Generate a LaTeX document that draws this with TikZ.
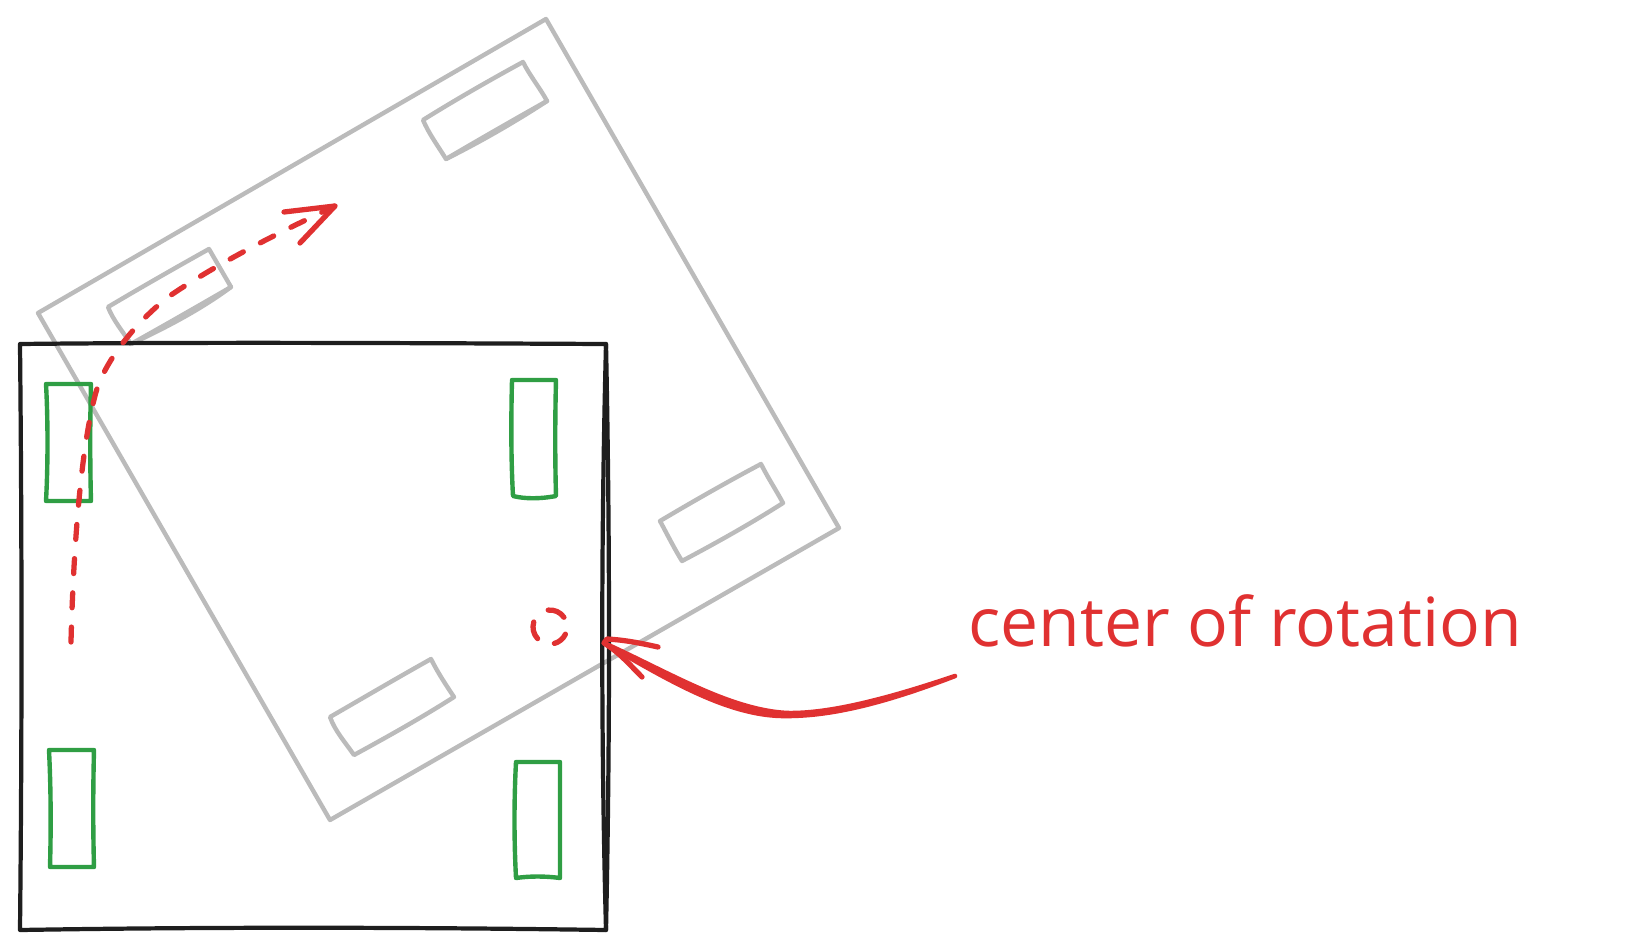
\documentclass[tikz,border=0pt]{standalone}
\usepackage{xcolor}
\usepackage{fontspec}
\setmainfont{Open Sans}
\definecolor{inkblack}{HTML}{1E1E1E}
\definecolor{inkgrey}{HTML}{BBBBBB}
\definecolor{inkgreen}{HTML}{2F9E44}
\definecolor{inkred}{HTML}{E03131}

\begin{document}
\begin{tikzpicture}[
  x=0.02cm, y=-0.02cm,
  greybase/.style={draw=inkgrey, line width=2.5pt, line join=round, line cap=round},
  blackbase/.style={draw=inkblack, line width=2.4pt, line join=round, line cap=round},
  greenwheel/.style={draw=inkgreen, line width=2.5pt, line join=round, line cap=round},
  redpen/.style={draw=inkred, line width=3pt, line cap=round, line join=round},
  reddash/.style={redpen, dash pattern=on 8.5pt off 11pt},
  redlabel/.style={text=inkred, inner sep=0pt, anchor=base west, font=\fontsize{38.6}{42}\selectfont}
]
  \useasboundingbox (0,0) rectangle (1645,950);

  % rotated robot
  \draw[greybase] (546,19) -- (839,528) -- (330,820) -- (38,313) -- cycle;
  \draw[greybase] (423,120) .. controls (455,100) and (490,80) .. (523,62) .. controls (530,76) and (540,88) .. (547,101)
    .. controls (515,122) and (480,142) .. (446,159) .. controls (438,146) and (429,134) .. (423,120) -- cycle;
  \draw[greybase] (547,101) .. controls (515,119) and (480,139) .. (446,159);
  \draw[greybase] (108,307) .. controls (140,288) and (175,268) .. (209,249) -- (231,287)
    .. controls (200,310) and (165,328) .. (131,344) .. controls (123,332) and (113,320) .. (108,307) -- cycle;
  \draw[greybase] (231,287) .. controls (200,305) and (165,325) .. (131,344);
  \draw[greybase] (660,521) .. controls (692,502) and (727,482) .. (761,464) .. controls (768,478) and (776,490) .. (783,503)
    .. controls (750,524) and (716,543) .. (682,561) .. controls (674,548) and (667,534) .. (660,521) -- cycle;
  \draw[greybase] (330,717) .. controls (363,698) and (397,678) .. (431,659) .. controls (438,673) and (446,685) .. (454,697)
    .. controls (421,718) and (387,737) .. (354,755) .. controls (345,742) and (335,731) .. (330,717) -- cycle;

  % robot at start
  \draw[blackbase] (20,344) .. controls (200,342) and (400,343) .. (606,344) .. controls (610,540) and (610,740) .. (606,930)
    .. controls (400,927) and (200,927) .. (20,930) .. controls (22,740) and (22,540) .. (20,344) -- cycle;
  \draw[blackbase] (606,344) .. controls (601,540) and (601,740) .. (606,930);
  \draw[greenwheel] (46,384) -- (91,384) .. controls (90,420) and (90,465) .. (91,501) -- (46,501) .. controls (48,465) and (48,420) .. (46,384) -- cycle;
  \draw[greenwheel] (512,380) -- (556,380) .. controls (555,420) and (555,460) .. (556,496) .. controls (540,499) and (525,499) .. (513,496) .. controls (511,460) and (511,420) .. (512,380) -- cycle;
  \draw[greenwheel] (49,750) -- (94,750) .. controls (93,790) and (93,830) .. (94,867) -- (50,867) .. controls (51,830) and (51,790) .. (49,750) -- cycle;
  \draw[greenwheel] (516,762) -- (560,762) .. controls (560,800) and (560,840) .. (560,878) .. controls (545,876) and (530,876) .. (516,878) .. controls (514,840) and (514,800) .. (516,762) -- cycle;

  % path of the wheel
  \coordinate (pathstart) at (71,642);
  \coordinate (pathtip) at (335,206);
  \coordinate (barbone) at (284,212);
  \coordinate (barbtwo) at (300,243);
  \draw[reddash] (pathstart) .. controls (73,560) and (80,450) .. (96,392) .. controls (106,358) and (140,318) .. (171,295)
    .. controls (220,262) and (280,232) .. (pathtip);
  \draw[redpen] (barbone) -- (pathtip) -- (barbtwo);

  % center of rotation
  \coordinate (rotcenter) at (550,627);
  \draw[redpen] ([shift={(137:17)}]rotcenter) arc (137:197:17);
  \draw[redpen] ([shift={(25:17)}]rotcenter) arc (25:75:17);
  \draw[redpen] ([shift={(264:17)}]rotcenter) arc (264:325:17);

  \node[redlabel] (rotlabel) at (968,646) {center of rotation};
  \coordinate (armstart) at (955,676);
  \coordinate (armtip) at (604,643);
  \coordinate (armbarbone) at (658,647);
  \coordinate (armbarbtwo) at (642,677);
  \draw[redpen, line width=2.6pt, fill=inkred] (armstart) .. controls (890,698) and (830,714) .. (787,713)
    .. controls (730,710) and (670,673) .. (armtip) .. controls (670,681) and (730,717) .. (787,716)
    .. controls (835,716) and (890,701) .. (armstart) -- cycle;
  \draw[redpen] (armbarbone) .. controls (640,643) and (625,640) .. (607,639) -- (armtip) .. controls (620,653) and (630,665) .. (armbarbtwo);
\end{tikzpicture}
\end{document}
